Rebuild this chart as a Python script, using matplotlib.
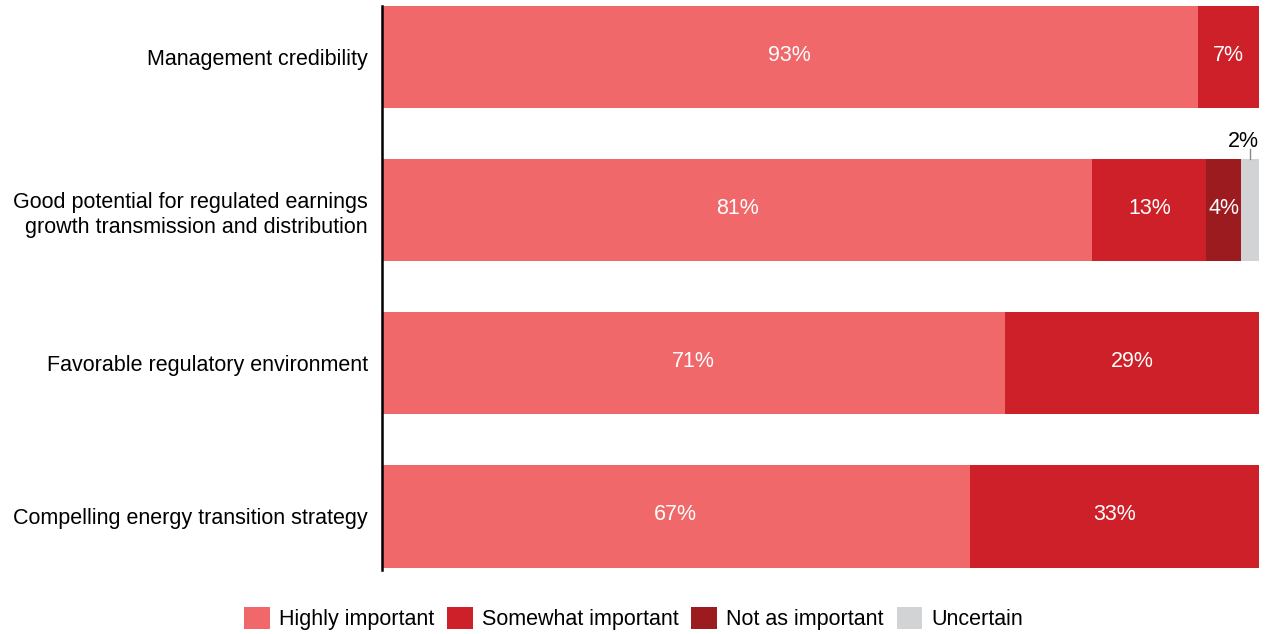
import matplotlib.pyplot as plt
import numpy as np

plt.rcParams['font.family'] = ['Liberation Sans', 'DejaVu Sans']

categories = ['Management credibility',
              'Good potential for regulated earnings\ngrowth transmission and distribution',
              'Favorable regulatory environment',
              'Compelling energy transition strategy']
series = ['Highly important', 'Somewhat important', 'Not as important', 'Uncertain']
values = {
    'Highly important':   [93, 81, 71, 67],
    'Somewhat important': [7, 13, 29, 33],
    'Not as important':   [0, 4, 0, 0],
    'Uncertain':          [0, 2, 0, 0],
}
colors = ['#F0686A', '#CE2029', '#9B1B1F', '#D1D3D4']
fs = 15.5

fig = plt.figure(figsize=(12.67, 6.34), dpi=100)
ax = fig.add_axes([0.3015, 0.1009, 0.6922, 0.8896])

y = np.arange(len(categories))
left = np.zeros(len(categories))
for name, col in zip(series, colors):
    vals = np.array(values[name], dtype=float)
    ax.barh(y, vals, left=left, height=0.667, color=col, label=name)
    for i, v in enumerate(vals):
        if v >= 4:
            ax.text(left[i] + v / 2, y[i] - 0.01, f'{int(v)}%', ha='center', va='center',
                    color='white', fontsize=fs)
    left += vals

# small value above the thin grey segment
i = 1
v = values['Uncertain'][i]
xc = 100 - v / 2
ax.plot([xc, xc], [y[i] - 0.333, y[i] - 0.40], color='#888888', lw=1)
ax.text(xc - 0.8, y[i] - 0.415, f'{v}%', ha='center', va='baseline', color='black', fontsize=fs)

ax.set_xlim(0, 100)
ax.set_ylim(3.35, -0.333)
ax.set_yticks(y)
ax.set_yticklabels(categories, fontsize=fs, linespacing=1.25)
ax.set_xticks([])
ax.tick_params(axis='y', length=0, pad=10)
for s in ['top', 'right', 'bottom']:
    ax.spines[s].set_visible(False)
ax.spines['left'].set_linewidth(1.8)
ax.spines['left'].set_color('black')
plt.setp(ax.get_yticklabels(), ha='right')

fig.legend(loc='lower center', ncol=4, frameon=False, fontsize=fs,
           bbox_to_anchor=(0.5, -0.025), handlelength=1.2, handleheight=1.2,
           handletextpad=0.42, columnspacing=0.6)

fig.savefig('out.png', dpi=100)
